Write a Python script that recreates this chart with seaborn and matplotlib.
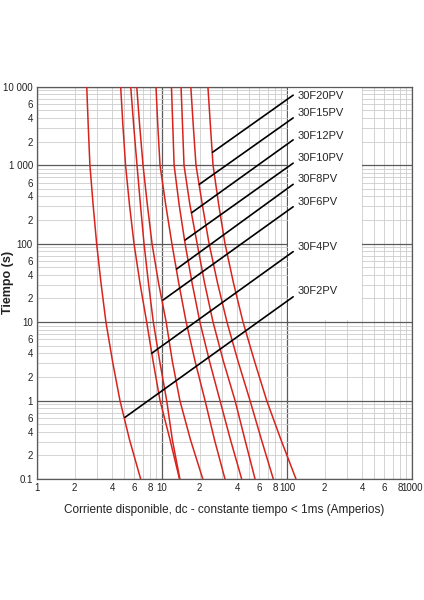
import matplotlib
matplotlib.use('Agg')
import matplotlib.pyplot as plt
import pandas as pd
import seaborn as sns
import numpy as np
from matplotlib import font_manager
from matplotlib.patches import Rectangle

times = [10000, 3160, 1000, 316, 100, 31.6, 10, 3.16, 1, 0.316, 0.1]

# current (A) of each melting curve at those times, left to right
c1 = [2.50, 2.57, 2.65, 2.81, 3.00, 3.25, 3.56, 4.02, 4.61, 5.50, 6.75]
c2 = [4.67, 4.87, 5.11, 5.49, 5.97, 6.66, 7.54, 8.49, 9.64, 11.6, 13.8]
c3 = [5.62, 5.94, 6.31, 6.72, 7.18, 7.79, 8.52, 9.59, 10.9, 12.1, 13.9]
c4 = [6.28, 6.63, 7.05, 7.63, 8.32, 9.38, 10.8, 12.1, 13.9, 16.9, 21.2]
c5 = [8.95, 9.26, 9.64, 10.7, 12.0, 13.6, 15.6, 18.4, 22.1, 26.3, 31.9]
c6 = [11.9, 12.2, 12.5, 13.7, 15.3, 17.4, 20.1, 24.0, 29.1, 35.3, 43.4]
c7 = [14.2, 14.6, 15.0, 16.7, 19.1, 21.9, 25.6, 31.0, 38.4, 46.1, 55.5]
c8 = [17.0, 17.8, 18.7, 21.0, 23.8, 27.8, 33.1, 40.6, 50.6, 62.5, 77.7]
c9 = [23.3, 24.4, 25.6, 28.4, 31.9, 37.3, 44.5, 55.0, 68.8, 89.5, 118]
curves = [c1, c2, c3, c4, c5, c6, c7, c8, c9]

# leader lines: point on the curve -> point near the label
labels = ['30F20PV', '30F15PV', '30F12PV', '30F10PV', '30F8PV', '30F6PV', '30F4PV', '30F2PV']
lead_x0 = [25.4, 19.9, 17.3, 15.3, 13.1, 10.2, 8.27, 5.06]
lead_y0 = [1460, 570, 248, 111, 47.5, 19.1, 4.0, 0.611]
lead_x1 = [112, 112, 112, 112, 112, 112, 112, 112]
lead_y1 = [7800, 4000, 2100, 1060, 570, 295, 79, 21]
label_y = [7600, 4580, 2370, 1220, 666, 336, 91, 24.9]

x_major = [1, 10, 100, 1000]
x_major_labels = ['1', '10', '100', '1000']
y_major = [0.1, 1, 10, 100, 1000, 10000]
y_major_labels = ['0.1', '1', '10', '100', '1 000', '10 000']

rows = []
for i, c in enumerate(curves):
    for t, a in zip(times, c):
        rows.append({'curve': i, 'amp': a, 'time': t})
df = pd.DataFrame(rows)

sns.set_style('white')
names = {f.name for f in font_manager.fontManager.ttflist}
narrow = 'Liberation Sans Narrow' if 'Liberation Sans Narrow' in names else 'Liberation Sans'
plt.rcParams['font.family'] = [narrow, 'DejaVu Sans']

fig = plt.figure(figsize=(4.24, 6.0), dpi=100)
ax = fig.add_axes([37 / 424, 1 - 479 / 600, 375 / 424, 392.3 / 600])
ax.set_xscale('log')
ax.set_yscale('log')
ax.set_xlim(1, 1000)
ax.set_ylim(0.1, 10000)
ax.set_axisbelow(True)

sns.lineplot(data=df, x='amp', y='time', hue='curve', units='curve', estimator=None,
             sort=False, palette=['#d8231d'] * 9, linewidth=1.1, legend=False, ax=ax, zorder=3)

# blank box behind the labels
ax.add_patch(Rectangle((101.5, 10.6), 398 - 101.5, 10000 - 10.6,
                       facecolor='white', edgecolor='none', zorder=1))

for i in range(len(labels)):
    ax.plot([lead_x0[i], lead_x1[i]], [lead_y0[i], lead_y1[i]], color='black', lw=1.2, zorder=4)
    ax.text(122, label_y[i], labels[i], fontsize=8, va='center', ha='left', zorder=5)

# ticks and grid
x_minor, x_minor_labels = [], []
for d in [1, 10, 100]:
    for m in range(2, 10):
        x_minor.append(m * d)
        x_minor_labels.append(str(m) if m % 2 == 0 else '')
y_minor, y_minor_labels = [], []
for d in [0.1, 1, 10, 100, 1000]:
    for m in range(2, 10):
        y_minor.append(m * d)
        y_minor_labels.append(str(m) if m in (2, 4, 6) else '')

ax.set_xticks(x_major, labels=x_major_labels)
ax.set_xticks(x_minor, labels=x_minor_labels, minor=True)
ax.set_yticks(y_major, labels=y_major_labels)
ax.set_yticks(y_minor, labels=y_minor_labels, minor=True)
ax.tick_params(which='both', length=0, labelsize=7, colors='#222222', pad=3)

ax.grid(which='major', color='#5a5a5a', lw=0.9)
ax.grid(which='minor', color='#cccccc', lw=0.6)
for s in ax.spines.values():
    s.set_color('#5a5a5a')
    s.set_linewidth(0.9)

ax.set_xlabel('')
ax.set_ylabel('')
fig.text(224 / 424, 1 - 510 / 600, 'Corriente disponible, dc - constante tiempo < 1ms (Amperios)',
         ha='center', va='center', fontsize=8.5, color='#222222')
fig.text(8 / 424, 1 - 282 / 600, 'Tiempo (s)', rotation=90, ha='center', va='center',
         fontsize=9, fontweight='bold', family=['Liberation Sans', 'DejaVu Sans'], color='#222222')

fig.savefig('out.png', dpi=100)
